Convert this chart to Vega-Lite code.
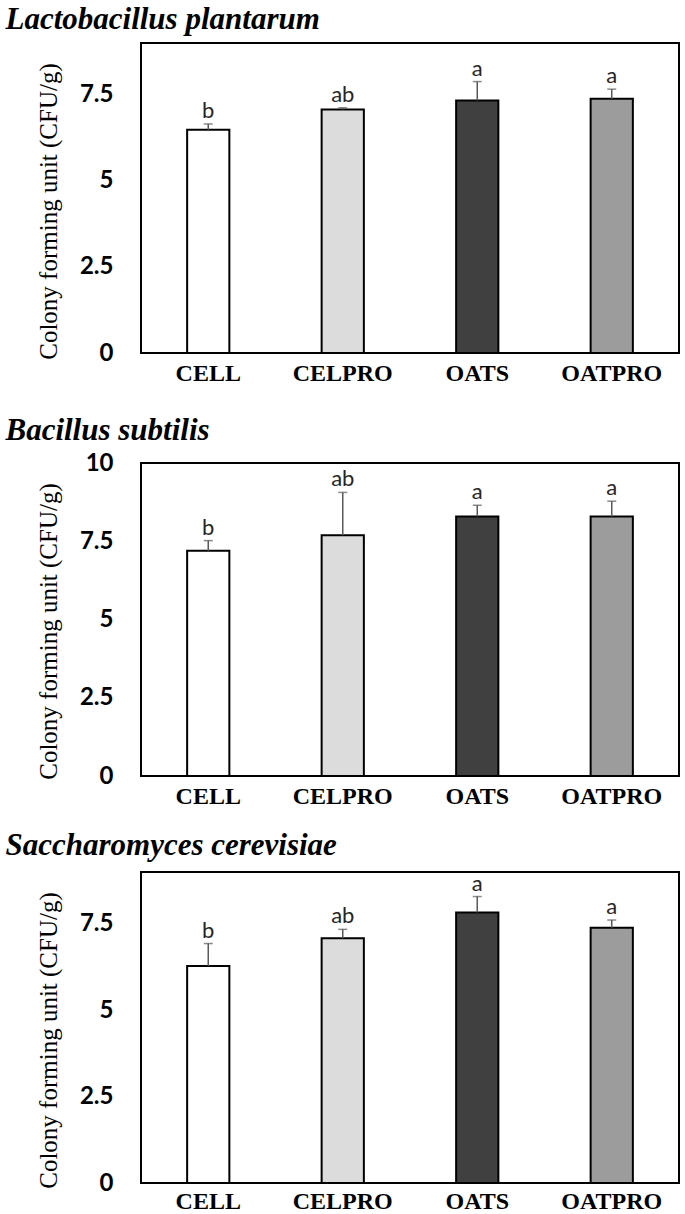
{
  "$schema": "https://vega.github.io/schema/vega-lite/v6.json",
  "padding": {"left": 4, "top": 3, "right": 3, "bottom": 0},
  "autosize": {"type": "pad"},
  "background": "white",
  "config": {
    "view": {"stroke": "black", "strokeWidth": 2},
    "axis": {"grid": false, "domain": false, "ticks": false},
    "title": {"font": "Liberation Serif", "fontStyle": "italic", "fontWeight": "bold", "fontSize": 31, "anchor": "start", "frame": "bounds", "color": "black", "dx": -31}
  },
  "spacing": 20,
  "data": {"values": [
    {"panel": "L", "group": "CELL", "mean": 6.48, "upper": 6.65, "letter": "b"},
    {"panel": "L", "group": "CELPRO", "mean": 7.07, "upper": 7.12, "letter": "ab"},
    {"panel": "L", "group": "OATS", "mean": 7.33, "upper": 7.88, "letter": "a"},
    {"panel": "L", "group": "OATPRO", "mean": 7.38, "upper": 7.66, "letter": "a"},
    {"panel": "B", "group": "CELL", "mean": 7.2, "upper": 7.52, "letter": "b"},
    {"panel": "B", "group": "CELPRO", "mean": 7.69, "upper": 9.06, "letter": "ab"},
    {"panel": "B", "group": "OATS", "mean": 8.29, "upper": 8.65, "letter": "a"},
    {"panel": "B", "group": "OATPRO", "mean": 8.29, "upper": 8.78, "letter": "a"},
    {"panel": "S", "group": "CELL", "mean": 6.28, "upper": 6.93, "letter": "b"},
    {"panel": "S", "group": "CELPRO", "mean": 7.08, "upper": 7.34, "letter": "ab"},
    {"panel": "S", "group": "OATS", "mean": 7.83, "upper": 8.29, "letter": "a"},
    {"panel": "S", "group": "OATPRO", "mean": 7.39, "upper": 7.61, "letter": "a"}
  ]},
  "vconcat": [
    {
      "title": {"text": "Lactobacillus plantarum", "offset": 7},
      "width": 538, "height": 310,
      "transform": [{"filter": "datum.panel == 'L'"}],
      "encoding": {
        "x": {"field": "group", "type": "nominal", "sort": ["CELL", "CELPRO", "OATS", "OATPRO"],
          "scale": {"paddingInner": 0.686, "paddingOuter": 0.343},
          "axis": {"title": " ", "titleFontSize": 2, "titlePadding": 6, "labelAngle": 0, "labelFont": "Liberation Serif", "labelFontWeight": "bold", "labelFontSize": 24, "labelPadding": 8, "labelColor": "black"}}
      },
      "layer": [
        {"mark": {"type": "bar", "stroke": "black", "strokeWidth": 2},
          "encoding": {
            "y": {"field": "mean", "type": "quantitative", "scale": {"domain": [0, 9], "nice": false},
              "axis": {"title": "Colony forming unit (CFU/g)", "titleFont": "Liberation Serif", "titleFontSize": 25, "titleFontWeight": "normal", "titleColor": "black", "titlePadding": 18, "titleY": 168, "values": [0, 2.5, 5, 7.5], "labelExpr": "datum.value + ''", "labelFont": "Lato", "labelFontWeight": "bold", "labelFontSize": 24, "labelPadding": 28, "labelColor": "black"}},
            "fill": {"field": "group", "type": "nominal", "scale": {"domain": ["CELL", "CELPRO", "OATS", "OATPRO"], "range": ["#ffffff", "#dcdcdc", "#404040", "#9c9c9c"]}, "legend": null}
          }},
        {"mark": {"type": "rule", "color": "#595959", "strokeWidth": 1.5},
          "encoding": {"y": {"field": "mean", "type": "quantitative"}, "y2": {"field": "upper"}}},
        {"mark": {"type": "tick", "color": "#595959", "thickness": 1.5, "size": 9},
          "encoding": {"y": {"field": "upper", "type": "quantitative"}}},
        {"mark": {"type": "text", "baseline": "alphabetic", "dy": -6, "font": "Lato", "fontSize": 22, "color": "#262626"},
          "encoding": {"y": {"field": "upper", "type": "quantitative"}, "text": {"field": "letter"}}}
      ]
    },
    {
      "title": {"text": "Bacillus subtilis", "offset": 4},
      "width": 538, "height": 313,
      "transform": [{"filter": "datum.panel == 'B'"}],
      "encoding": {
        "x": {"field": "group", "type": "nominal", "sort": ["CELL", "CELPRO", "OATS", "OATPRO"],
          "scale": {"paddingInner": 0.686, "paddingOuter": 0.343},
          "axis": {"title": null, "labelAngle": 0, "labelFont": "Liberation Serif", "labelFontWeight": "bold", "labelFontSize": 24, "labelPadding": 8, "labelColor": "black"}}
      },
      "layer": [
        {"mark": {"type": "bar", "stroke": "black", "strokeWidth": 2},
          "encoding": {
            "y": {"field": "mean", "type": "quantitative", "scale": {"domain": [0, 10], "nice": false},
              "axis": {"title": "Colony forming unit (CFU/g)", "titleFont": "Liberation Serif", "titleFontSize": 25, "titleFontWeight": "normal", "titleColor": "black", "titlePadding": 18, "titleY": 168, "values": [0, 2.5, 5, 7.5, 10], "labelExpr": "datum.value + ''", "labelFont": "Lato", "labelFontWeight": "bold", "labelFontSize": 24, "labelPadding": 28, "labelColor": "black"}},
            "fill": {"field": "group", "type": "nominal", "scale": {"domain": ["CELL", "CELPRO", "OATS", "OATPRO"], "range": ["#ffffff", "#dcdcdc", "#404040", "#9c9c9c"]}, "legend": null}
          }},
        {"mark": {"type": "rule", "color": "#595959", "strokeWidth": 1.5},
          "encoding": {"y": {"field": "mean", "type": "quantitative"}, "y2": {"field": "upper"}}},
        {"mark": {"type": "tick", "color": "#595959", "thickness": 1.5, "size": 9},
          "encoding": {"y": {"field": "upper", "type": "quantitative"}}},
        {"mark": {"type": "text", "baseline": "alphabetic", "dy": -6, "font": "Lato", "fontSize": 22, "color": "#262626"},
          "encoding": {"y": {"field": "upper", "type": "quantitative"}, "text": {"field": "letter"}}}
      ]
    },
    {
      "title": {"text": "Saccharomyces cerevisiae", "offset": 10},
      "width": 538, "height": 311,
      "transform": [{"filter": "datum.panel == 'S'"}],
      "encoding": {
        "x": {"field": "group", "type": "nominal", "sort": ["CELL", "CELPRO", "OATS", "OATPRO"],
          "scale": {"paddingInner": 0.686, "paddingOuter": 0.343},
          "axis": {"title": null, "labelAngle": 0, "labelFont": "Liberation Serif", "labelFontWeight": "bold", "labelFontSize": 24, "labelPadding": 6, "labelColor": "black"}}
      },
      "layer": [
        {"mark": {"type": "bar", "stroke": "black", "strokeWidth": 2},
          "encoding": {
            "y": {"field": "mean", "type": "quantitative", "scale": {"domain": [0, 9], "nice": false},
              "axis": {"title": "Colony forming unit (CFU/g)", "titleFont": "Liberation Serif", "titleFontSize": 25, "titleFontWeight": "normal", "titleColor": "black", "titlePadding": 18, "titleY": 168, "values": [0, 2.5, 5, 7.5], "labelExpr": "datum.value + ''", "labelFont": "Lato", "labelFontWeight": "bold", "labelFontSize": 24, "labelPadding": 28, "labelColor": "black"}},
            "fill": {"field": "group", "type": "nominal", "scale": {"domain": ["CELL", "CELPRO", "OATS", "OATPRO"], "range": ["#ffffff", "#dcdcdc", "#404040", "#9c9c9c"]}, "legend": null}
          }},
        {"mark": {"type": "rule", "color": "#595959", "strokeWidth": 1.5},
          "encoding": {"y": {"field": "mean", "type": "quantitative"}, "y2": {"field": "upper"}}},
        {"mark": {"type": "tick", "color": "#595959", "thickness": 1.5, "size": 9},
          "encoding": {"y": {"field": "upper", "type": "quantitative"}}},
        {"mark": {"type": "text", "baseline": "alphabetic", "dy": -6, "font": "Lato", "fontSize": 22, "color": "#262626"},
          "encoding": {"y": {"field": "upper", "type": "quantitative"}, "text": {"field": "letter"}}}
      ]
    }
  ]
}
